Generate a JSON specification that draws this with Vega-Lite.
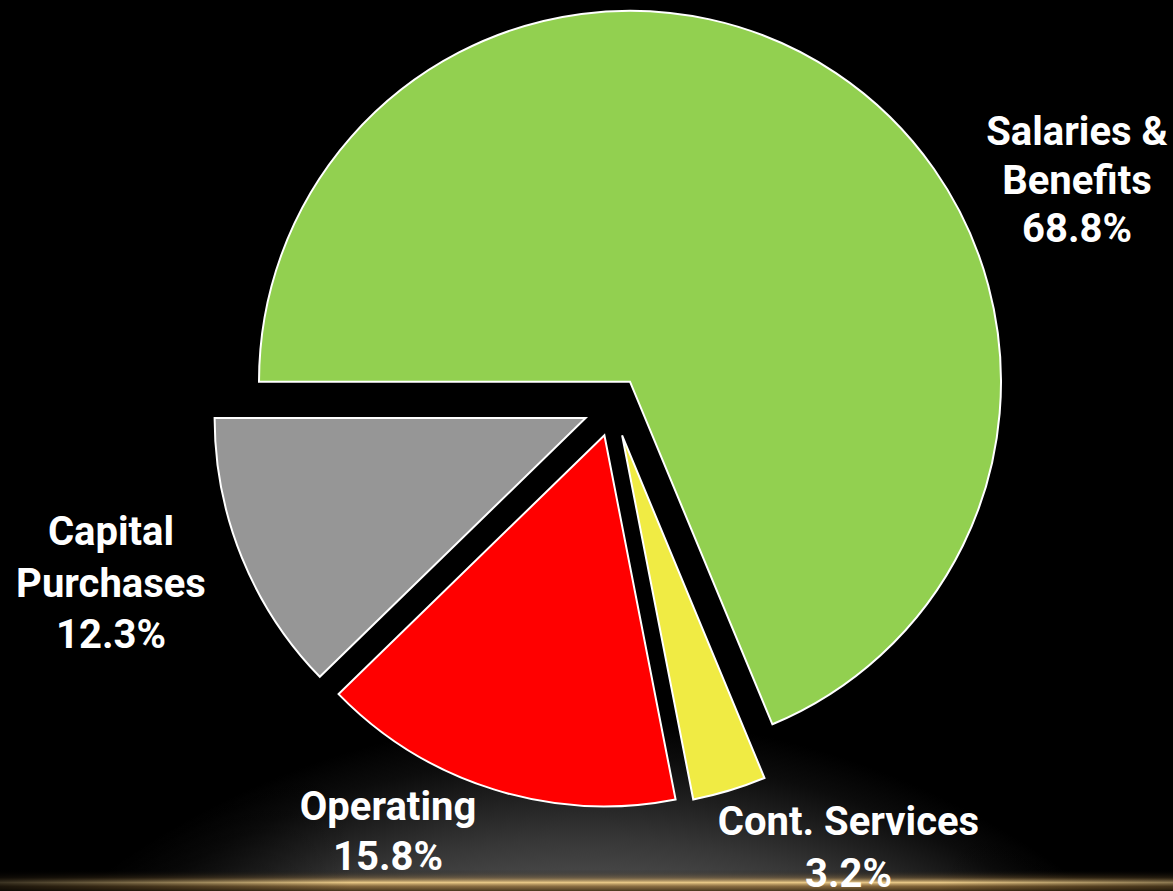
{
  "$schema": "https://vega.github.io/schema/vega-lite/v6.json",
  "width": 1173,
  "height": 891,
  "padding": 0,
  "autosize": {"type": "none"},
  "background": "#000000",
  "config": {"view": {"stroke": null}},
  "datasets": {
    "slices": [
      {"category": "Salaries & Benefits", "label": "Salaries &\nBenefits", "pct": 68.8, "order": 1},
      {"category": "Cont. Services", "label": "Cont. Services", "pct": 3.2, "order": 2},
      {"category": "Operating", "label": "Operating", "pct": 15.8, "order": 3},
      {"category": "Capital Purchases", "label": "Capital\nPurchases", "pct": 12.3, "order": 4}
    ],
    "backdrop": [{"part": "backdrop"}]
  },
  "layer": [
    {
      "data": {"name": "backdrop"},
      "mark": {
        "type": "rect",
        "fill": {
          "gradient": "radial",
          "x1": 0.5, "y1": 1.431, "r1": 0.551,
          "x2": 0.5, "y2": 1.431, "r2": 0.70,
          "stops": [
            {"offset": 0, "color": "#4a4a4a"},
            {"offset": 0.12, "color": "#454545"},
            {"offset": 0.3, "color": "#373737"},
            {"offset": 0.55, "color": "#202020"},
            {"offset": 0.78, "color": "#0c0c0c"},
            {"offset": 1, "color": "#000000"}
          ]
        }
      }
    },
    {
      "data": {"name": "backdrop"},
      "mark": {
        "type": "rect",
        "fill": {
          "gradient": "linear",
          "x1": 0, "y1": 0, "x2": 0, "y2": 1,
          "stops": [
            {"offset": 0, "color": "rgba(0,0,0,0)"},
            {"offset": 0.976, "color": "rgba(0,0,0,0)"},
            {"offset": 0.985, "color": "rgba(170,130,70,0.35)"},
            {"offset": 0.9905, "color": "rgba(232,200,135,1)"},
            {"offset": 0.995, "color": "rgba(160,120,60,0.7)"},
            {"offset": 1, "color": "rgba(70,50,20,0.8)"}
          ]
        }
      }
    },
    {
      "data": {"name": "backdrop"},
      "mark": {
        "type": "rect",
        "fill": {
          "gradient": "linear",
          "x1": 0, "y1": 0, "x2": 1, "y2": 0,
          "stops": [
            {"offset": 0, "color": "rgba(0,0,0,0.75)"},
            {"offset": 0.3, "color": "rgba(0,0,0,0)"},
            {"offset": 0.8, "color": "rgba(0,0,0,0)"},
            {"offset": 1, "color": "rgba(0,0,0,0.4)"}
          ]
        }
      }
    },
    {
      "data": {"name": "slices"},
      "transform": [
        {"stack": "pct", "groupby": [], "as": ["start", "end"], "sort": [{"field": "order", "order": "ascending"}]},
        {"calculate": "datum.label + '\\n' + format(datum.pct, '.1f') + '%'", "as": "text"}
      ],
      "encoding": {
        "theta": {"field": "start", "type": "quantitative", "scale": {"domain": [0, 100.1], "range": [-1.5707963, 4.712389]}},
        "theta2": {"field": "end"},
        "color": {
          "field": "category",
          "type": "nominal",
          "scale": {
            "domain": ["Salaries & Benefits", "Cont. Services", "Operating", "Capital Purchases"],
            "range": ["#92D050", "#F0EB44", "#FF0000", "#969696"]
          },
          "legend": null
        }
      },
      "layer": [
        {
          "transform": [{"filter": "datum.category === 'Salaries & Benefits'"}],
          "mark": {"type": "arc", "outerRadius": 371, "stroke": "#ffffff", "strokeWidth": 2, "xOffset": 43.5, "yOffset": -63.8}
        },
        {
          "transform": [{"filter": "datum.category === 'Cont. Services'"}],
          "mark": {"type": "arc", "outerRadius": 371, "stroke": "#ffffff", "strokeWidth": 2, "xOffset": 35.6, "yOffset": -10.1}
        },
        {
          "transform": [{"filter": "datum.category === 'Operating'"}],
          "mark": {"type": "arc", "outerRadius": 371, "stroke": "#ffffff", "strokeWidth": 2, "xOffset": 17.9, "yOffset": -10.2}
        },
        {
          "transform": [{"filter": "datum.category === 'Capital Purchases'"}],
          "mark": {"type": "arc", "outerRadius": 371, "stroke": "#ffffff", "strokeWidth": 2, "xOffset": -0.9, "yOffset": -27.5}
        },
        {
          "transform": [{"filter": "datum.category === 'Salaries & Benefits'"}],
          "mark": {"type": "text", "font": "Roboto", "fontWeight": "bold", "fontSize": 40, "fill": "#ffffff", "align": "center", "baseline": "alphabetic", "lineBreak": "\n", "lineHeight": 48.5, "dx": 490.5, "dy": -300.5},
          "encoding": {"theta": null, "theta2": null, "color": null, "text": {"field": "text", "type": "nominal"}}
        },
        {
          "transform": [{"filter": "datum.category === 'Cont. Services'"}],
          "mark": {"type": "text", "font": "Roboto", "fontWeight": "bold", "fontSize": 40, "fill": "#ffffff", "align": "center", "baseline": "alphabetic", "lineBreak": "\n", "lineHeight": 52, "dx": 262, "dy": 389.5},
          "encoding": {"theta": null, "theta2": null, "color": null, "text": {"field": "text", "type": "nominal"}}
        },
        {
          "transform": [{"filter": "datum.category === 'Operating'"}],
          "mark": {"type": "text", "font": "Roboto", "fontWeight": "bold", "fontSize": 40, "fill": "#ffffff", "align": "center", "baseline": "alphabetic", "lineBreak": "\n", "lineHeight": 50, "dx": -198.5, "dy": 374.5},
          "encoding": {"theta": null, "theta2": null, "color": null, "text": {"field": "text", "type": "nominal"}}
        },
        {
          "transform": [{"filter": "datum.category === 'Capital Purchases'"}],
          "mark": {"type": "text", "font": "Roboto", "fontWeight": "bold", "fontSize": 40, "fill": "#ffffff", "align": "center", "baseline": "alphabetic", "lineBreak": "\n", "lineHeight": 51.5, "dx": -475.5, "dy": 99.5},
          "encoding": {"theta": null, "theta2": null, "color": null, "text": {"field": "text", "type": "nominal"}}
        }
      ]
    }
  ]
}
